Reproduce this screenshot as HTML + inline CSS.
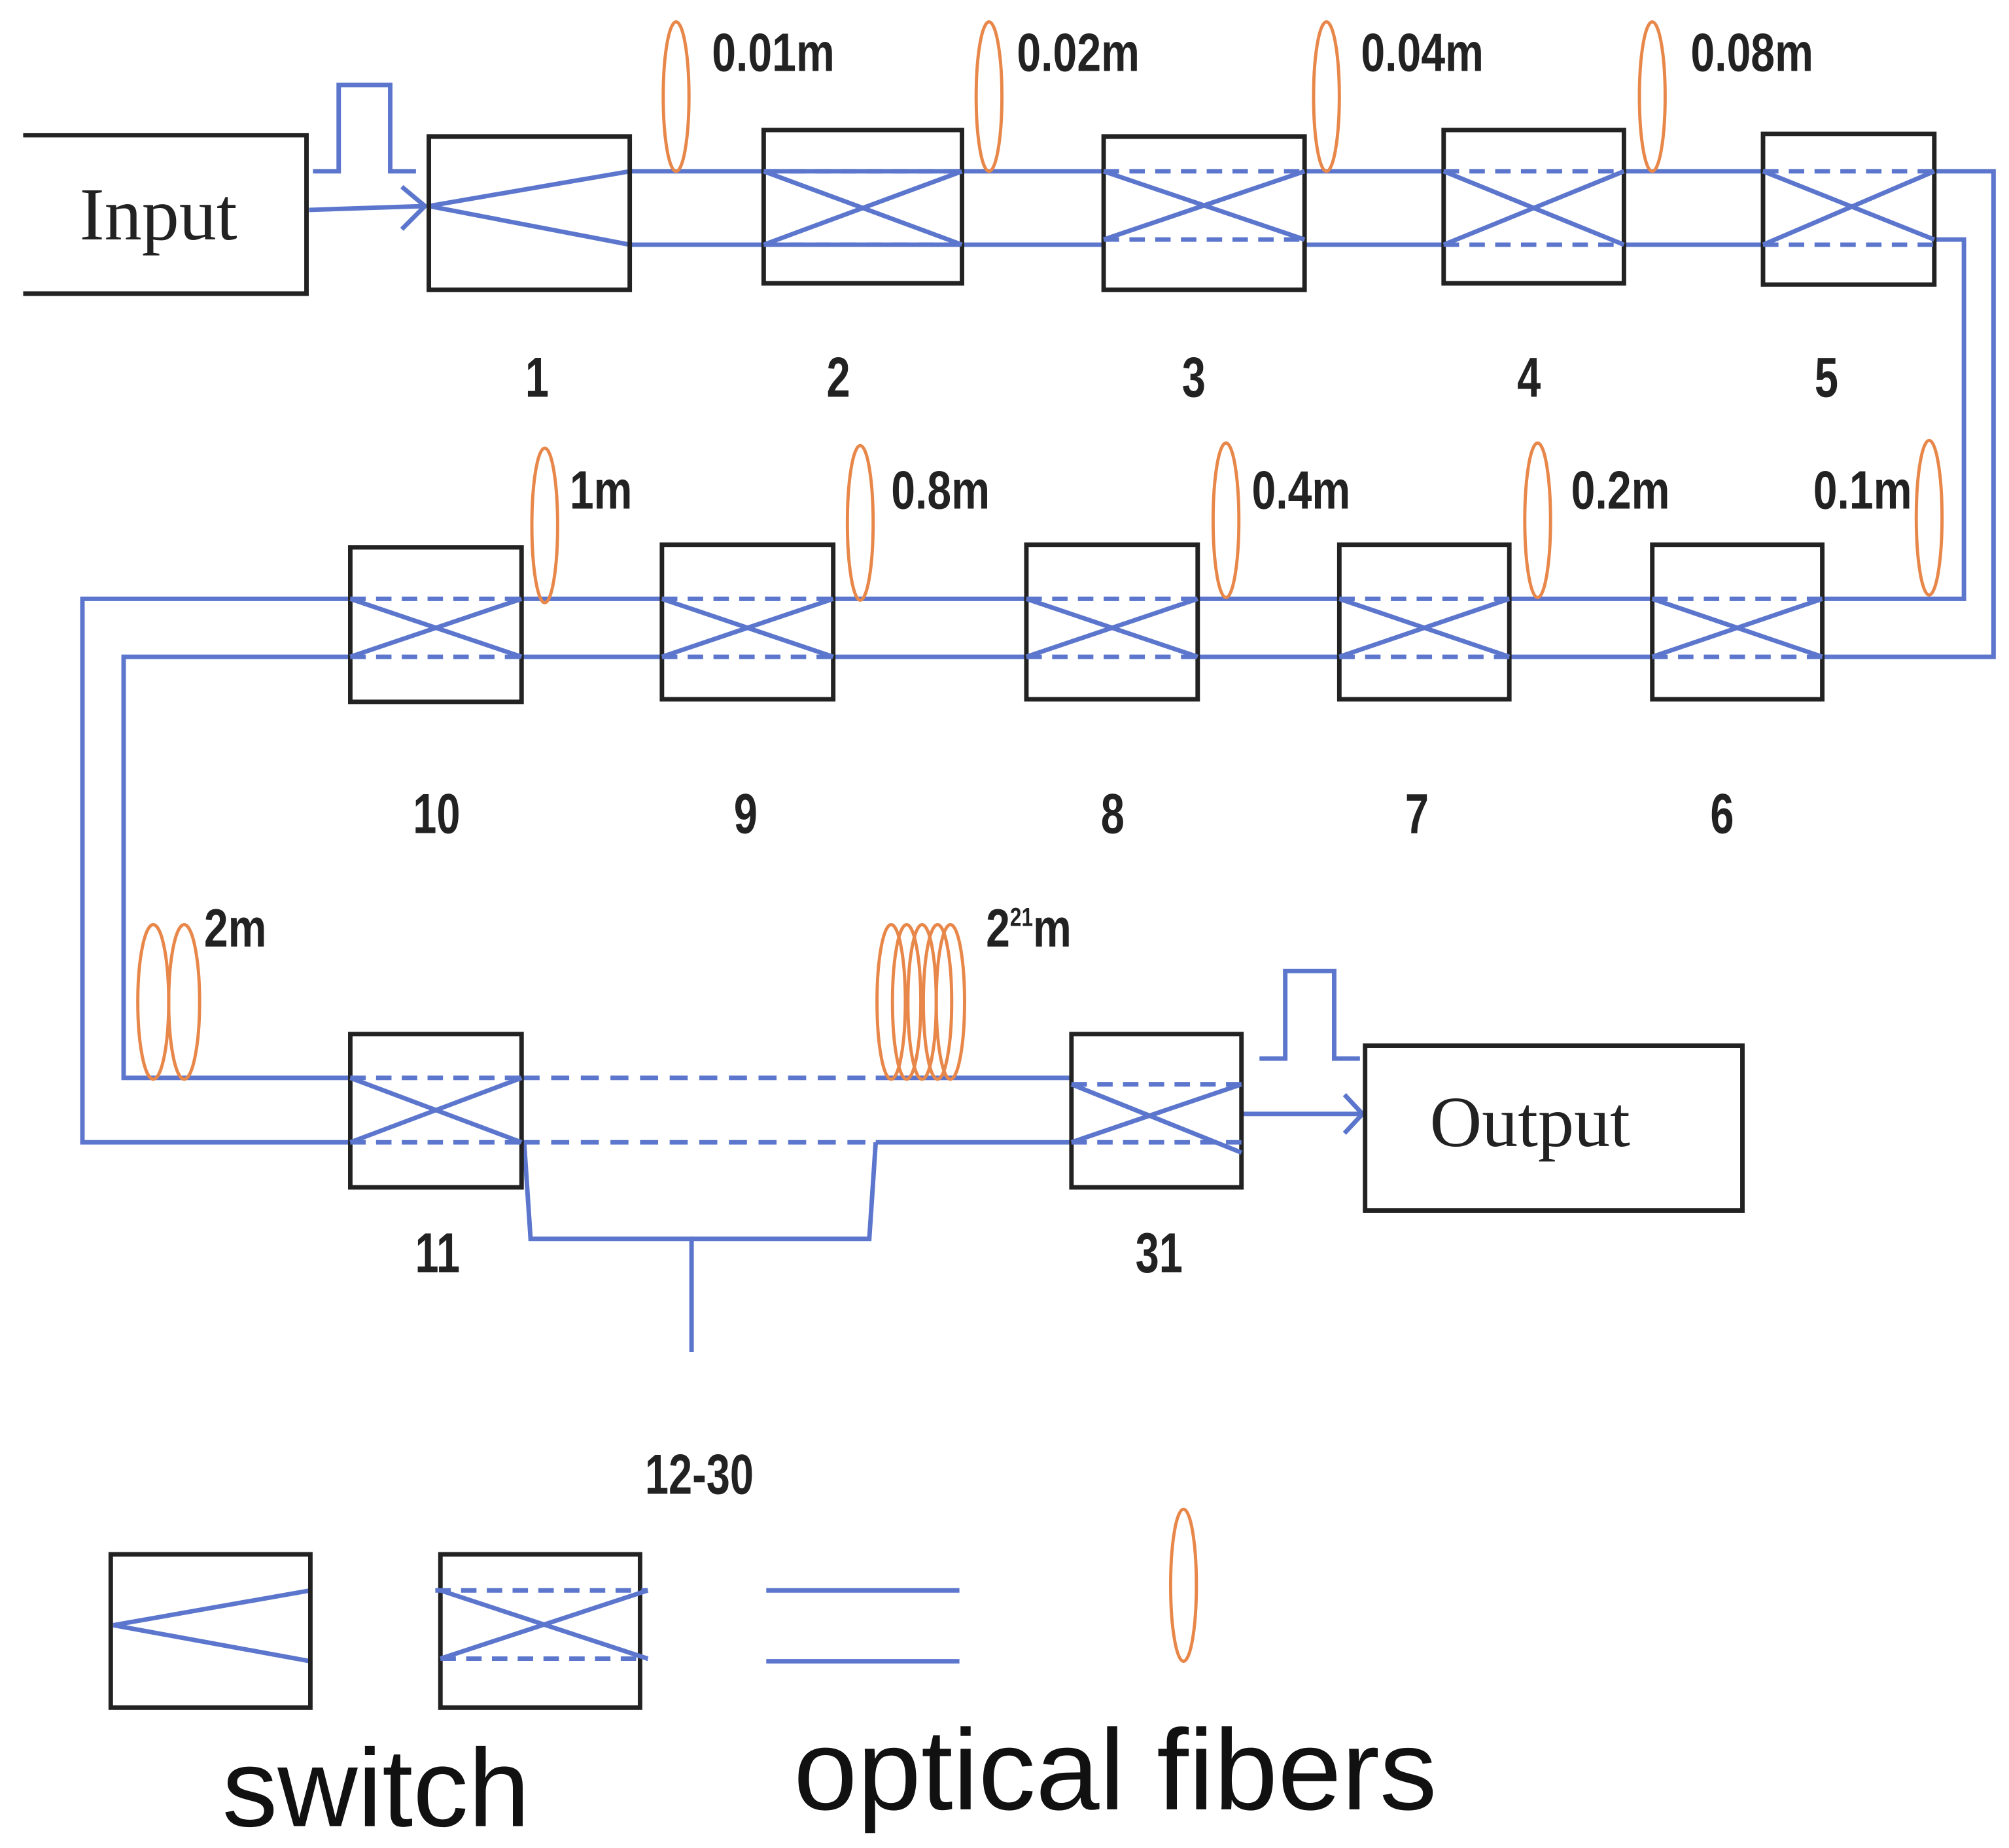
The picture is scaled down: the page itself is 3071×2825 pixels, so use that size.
<!DOCTYPE html>
<html><head><meta charset="utf-8"><style>html,body{margin:0;padding:0;background:#fff}svg{display:block}</style></head><body>
<svg width="3071" height="2825" viewBox="0 0 1560 1435" xmlns="http://www.w3.org/2000/svg">
<rect width="1560" height="1435" fill="#fff"/>
<g font-family="Liberation Sans, sans-serif" fill="#222" font-size="38" text-anchor="middle">
<g stroke="#5b76cc" stroke-width="3.5" fill="none">
<polyline points="243,133 263,133 263,66 303,66 303,133 323,133"/>
<line x1="240" y1="163" x2="330" y2="160"/>
<polyline points="312,145 330,160 312,178"/>
<line x1="333" y1="160" x2="489" y2="133"/><line x1="333" y1="160" x2="489" y2="190"/>
<line x1="489" y1="133" x2="1369" y2="133"/><line x1="489" y1="190" x2="1369" y2="190"/>
<polyline points="1502,133 1548,133 1548,510 1415,510"/>
<polyline points="1502,186 1525,186 1525,465 1415,465"/>
<line x1="405" y1="465" x2="1283" y2="465"/><line x1="405" y1="510" x2="1283" y2="510"/>
<polyline points="272,465 64,465 64,887 272,887"/>
<polyline points="272,510 96,510 96,837 272,837"/>
<line x1="680" y1="837" x2="832" y2="837"/><line x1="680" y1="887" x2="832" y2="887"/>
<line x1="964" y1="865" x2="1058" y2="865"/>
<polyline points="1044,850 1058,865 1044,880"/>
<polyline points="978,822 998,822 998,754 1036,754 1036,822 1056,822"/>
<polyline points="407,887 412,962 537,962 537,1050"/>
<polyline points="537,962 675,962 680,887"/>
<line x1="88" y1="1262" x2="241" y2="1235"/><line x1="88" y1="1262" x2="241" y2="1290"/>
<line x1="595" y1="1235" x2="745" y2="1235"/><line x1="595" y1="1290" x2="745" y2="1290"/>
</g>
<g stroke="#5b76cc" stroke-width="3.5" fill="none" stroke-dasharray="14,9">
<line x1="405" y1="837" x2="680" y2="837"/><line x1="405" y1="887" x2="680" y2="887"/>
</g>
<g stroke="#222" stroke-width="3.5" fill="none">
<rect x="333" y="106" width="156" height="119"/>
<polyline points="18,105 238,105 238,228 18,228"/>
<rect x="1060" y="812" width="293" height="128"/>
<rect x="86" y="1207" width="155" height="119"/>
</g>
<g stroke-width="3.5">
<g><rect x="593" y="101" width="154" height="119" fill="none" stroke="#222"/><line x1="593" y1="133" x2="747" y2="133" stroke="#5b76cc" stroke-dasharray="12,8"/><line x1="593" y1="190" x2="747" y2="190" stroke="#5b76cc" stroke-dasharray="12,8"/><line x1="593" y1="133" x2="747" y2="190" stroke="#5b76cc"/><line x1="593" y1="190" x2="747" y2="133" stroke="#5b76cc"/></g>
<g><rect x="857" y="106" width="156" height="119" fill="#fff" stroke="#222"/><line x1="857" y1="133" x2="1013" y2="133" stroke="#5b76cc" stroke-dasharray="12,8"/><line x1="857" y1="186" x2="1013" y2="186" stroke="#5b76cc" stroke-dasharray="12,8"/><line x1="857" y1="133" x2="1013" y2="186" stroke="#5b76cc"/><line x1="857" y1="186" x2="1013" y2="133" stroke="#5b76cc"/></g>
<g><rect x="1121" y="101" width="140" height="119" fill="#fff" stroke="#222"/><line x1="1121" y1="133" x2="1261" y2="133" stroke="#5b76cc" stroke-dasharray="12,8"/><line x1="1121" y1="190" x2="1261" y2="190" stroke="#5b76cc" stroke-dasharray="12,8"/><line x1="1121" y1="133" x2="1261" y2="190" stroke="#5b76cc"/><line x1="1121" y1="190" x2="1261" y2="133" stroke="#5b76cc"/></g>
<g><rect x="1369" y="104" width="133" height="117" fill="#fff" stroke="#222"/><line x1="1369" y1="133" x2="1502" y2="133" stroke="#5b76cc" stroke-dasharray="12,8"/><line x1="1369" y1="190" x2="1502" y2="190" stroke="#5b76cc" stroke-dasharray="12,8"/><line x1="1369" y1="133" x2="1502" y2="186" stroke="#5b76cc"/><line x1="1369" y1="190" x2="1502" y2="133" stroke="#5b76cc"/></g>
<g><rect x="272" y="425" width="133" height="120" fill="#fff" stroke="#222"/><line x1="272" y1="465" x2="405" y2="465" stroke="#5b76cc" stroke-dasharray="12,8"/><line x1="272" y1="510" x2="405" y2="510" stroke="#5b76cc" stroke-dasharray="12,8"/><line x1="272" y1="465" x2="405" y2="510" stroke="#5b76cc"/><line x1="272" y1="510" x2="405" y2="465" stroke="#5b76cc"/></g>
<g><rect x="514" y="423" width="133" height="120" fill="#fff" stroke="#222"/><line x1="514" y1="465" x2="647" y2="465" stroke="#5b76cc" stroke-dasharray="12,8"/><line x1="514" y1="510" x2="647" y2="510" stroke="#5b76cc" stroke-dasharray="12,8"/><line x1="514" y1="465" x2="647" y2="510" stroke="#5b76cc"/><line x1="514" y1="510" x2="647" y2="465" stroke="#5b76cc"/></g>
<g><rect x="797" y="423" width="133" height="120" fill="#fff" stroke="#222"/><line x1="797" y1="465" x2="930" y2="465" stroke="#5b76cc" stroke-dasharray="12,8"/><line x1="797" y1="510" x2="930" y2="510" stroke="#5b76cc" stroke-dasharray="12,8"/><line x1="797" y1="465" x2="930" y2="510" stroke="#5b76cc"/><line x1="797" y1="510" x2="930" y2="465" stroke="#5b76cc"/></g>
<g><rect x="1040" y="423" width="132" height="120" fill="#fff" stroke="#222"/><line x1="1040" y1="465" x2="1172" y2="465" stroke="#5b76cc" stroke-dasharray="12,8"/><line x1="1040" y1="510" x2="1172" y2="510" stroke="#5b76cc" stroke-dasharray="12,8"/><line x1="1040" y1="465" x2="1172" y2="510" stroke="#5b76cc"/><line x1="1040" y1="510" x2="1172" y2="465" stroke="#5b76cc"/></g>
<g><rect x="1283" y="423" width="132" height="120" fill="#fff" stroke="#222"/><line x1="1283" y1="465" x2="1415" y2="465" stroke="#5b76cc" stroke-dasharray="12,8"/><line x1="1283" y1="510" x2="1415" y2="510" stroke="#5b76cc" stroke-dasharray="12,8"/><line x1="1283" y1="465" x2="1415" y2="510" stroke="#5b76cc"/><line x1="1283" y1="510" x2="1415" y2="465" stroke="#5b76cc"/></g>
<g><rect x="272" y="803" width="133" height="119" fill="#fff" stroke="#222"/><line x1="272" y1="837" x2="405" y2="837" stroke="#5b76cc" stroke-dasharray="12,8"/><line x1="272" y1="887" x2="405" y2="887" stroke="#5b76cc" stroke-dasharray="12,8"/><line x1="272" y1="837" x2="405" y2="887" stroke="#5b76cc"/><line x1="272" y1="887" x2="405" y2="837" stroke="#5b76cc"/></g>
<g><rect x="832" y="803" width="132" height="119" fill="#fff" stroke="#222"/><line x1="832" y1="842" x2="964" y2="842" stroke="#5b76cc" stroke-dasharray="12,8"/><line x1="832" y1="887" x2="964" y2="887" stroke="#5b76cc" stroke-dasharray="12,8"/><line x1="832" y1="842" x2="964" y2="895" stroke="#5b76cc"/><line x1="832" y1="887" x2="964" y2="842" stroke="#5b76cc"/></g>
<g><rect x="342" y="1207" width="155" height="119" fill="#fff" stroke="#222"/><line x1="338" y1="1235" x2="503" y2="1235" stroke="#5b76cc" stroke-dasharray="12,8"/><line x1="342" y1="1288" x2="503" y2="1288" stroke="#5b76cc" stroke-dasharray="12,8"/><line x1="342" y1="1235" x2="503" y2="1288" stroke="#5b76cc"/><line x1="342" y1="1288" x2="503" y2="1235" stroke="#5b76cc"/></g>
</g>
<g stroke="#e8874a" stroke-width="2.5" fill="none">
<ellipse cx="525" cy="75" rx="10" ry="58"/>
<ellipse cx="768" cy="75" rx="10" ry="58"/>
<ellipse cx="1030" cy="75" rx="10" ry="58"/>
<ellipse cx="1283" cy="75" rx="10" ry="58"/>
<ellipse cx="423" cy="408" rx="10" ry="60"/>
<ellipse cx="668" cy="406" rx="10" ry="60"/>
<ellipse cx="952" cy="404" rx="10" ry="60"/>
<ellipse cx="1194" cy="404" rx="10" ry="60"/>
<ellipse cx="1498" cy="402" rx="10" ry="60"/>
<ellipse cx="119" cy="778" rx="12" ry="60"/>
<ellipse cx="143" cy="778" rx="12" ry="60"/>
<ellipse cx="692" cy="778" rx="11" ry="60"/>
<ellipse cx="704" cy="778" rx="11" ry="60"/>
<ellipse cx="716" cy="778" rx="11" ry="60"/>
<ellipse cx="728" cy="778" rx="11" ry="60"/>
<ellipse cx="738" cy="778" rx="11" ry="60"/>
<ellipse cx="919" cy="1231" rx="10" ry="59"/>
</g>
<g font-size="42" font-weight="600" text-anchor="start" transform="scale(0.8,1)">
<text x="691" y="55">0.01m</text>
<text x="987" y="55">0.02m</text>
<text x="1321" y="55">0.04m</text>
<text x="1641" y="55">0.08m</text>
<text x="553" y="395">1m</text>
<text x="865" y="395">0.8m</text>
<text x="1215" y="395">0.4m</text>
<text x="1525" y="395">0.2m</text>
<text x="1760" y="395">0.1m</text>
<text x="198" y="735">2m</text>
<text x="957" y="735">2<tspan font-size="20" dy="-16">21</tspan><tspan dy="16">m</tspan></text>
</g>
<g font-size="44" font-weight="600" transform="scale(0.75,1)">
<text x="556" y="308">1</text><text x="868" y="308">2</text><text x="1236" y="308">3</text><text x="1583" y="308">4</text><text x="1891" y="308">5</text>
<text x="452" y="647">10</text><text x="772" y="647">9</text><text x="1152" y="647">8</text><text x="1467" y="647">7</text><text x="1783" y="647">6</text>
<text x="453" y="988">11</text><text x="1200" y="988">31</text>
<text x="724" y="1160">12-30</text>
</g>
<text x="123" y="186" font-family="Liberation Serif, serif" font-size="58">Input</text>
<text x="1188" y="890" font-family="Liberation Serif, serif" font-size="56">Output</text>
<text x="292" y="1418" font-size="86" fill="#111">switch</text>
<text x="866" y="1405" font-size="89" fill="#111">optical fibers</text>
</g>
</svg>
</body></html>
